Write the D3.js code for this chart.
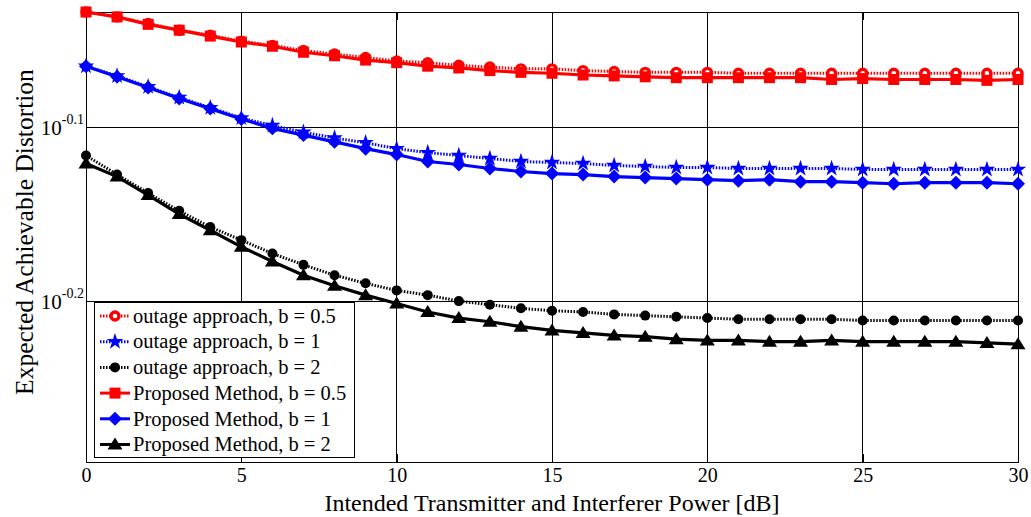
<!DOCTYPE html>
<html lang="en">
<head>
<meta charset="UTF-8">
<title>Expected Achievable Distortion</title>
<script src="https://d3js.org/d3.v7.min.js"></script>
<style>
  body { margin: 0; background: #fff; }
  svg text { font-family: "Liberation Serif", "Times New Roman", serif; fill: #000; }
  .grid line { stroke: #000; stroke-width: 1; shape-rendering: crispEdges; }
  .axis path, .axis line { stroke: #000; fill: none; shape-rendering: crispEdges; }
</style>
</head>
<body>
<svg width="1031" height="517"></svg>
<script>
// x values (dB)
const power = [0,1,2,3,4,5,6,7,8,9,10,11,12,13,14,15,16,17,18,19,20,21,22,23,24,25,26,27,28,29,30];

// outage approach
const outageB05 = [0.925,0.919,0.911,0.903,0.897,0.890,0.885,0.879,0.875,0.871,0.867,0.865,0.862,0.860,0.858,0.858,0.856,0.855,0.854,0.854,0.854,0.853,0.853,0.853,0.853,0.853,0.853,0.853,0.853,0.853,0.853];
const outageB1  = [0.861,0.850,0.838,0.826,0.815,0.804,0.796,0.789,0.783,0.778,0.772,0.768,0.765,0.762,0.759,0.758,0.757,0.755,0.754,0.753,0.753,0.752,0.752,0.752,0.752,0.751,0.751,0.751,0.751,0.751,0.751];
const outageB2  = [0.765,0.746,0.728,0.711,0.696,0.684,0.672,0.662,0.653,0.646,0.640,0.636,0.631,0.628,0.625,0.623,0.622,0.620,0.619,0.618,0.617,0.616,0.616,0.616,0.616,0.615,0.615,0.615,0.615,0.615,0.615];

// proposed method
const proposedB05 = [0.925,0.919,0.910,0.903,0.896,0.889,0.884,0.877,0.873,0.868,0.865,0.861,0.859,0.856,0.854,0.853,0.851,0.850,0.849,0.848,0.848,0.848,0.848,0.848,0.846,0.847,0.846,0.846,0.846,0.845,0.846];
const proposedB1  = [0.861,0.849,0.837,0.825,0.814,0.803,0.793,0.786,0.779,0.772,0.766,0.759,0.756,0.752,0.749,0.747,0.746,0.744,0.743,0.742,0.741,0.740,0.741,0.739,0.739,0.738,0.737,0.738,0.738,0.738,0.737];
const proposedB2  = [0.757,0.744,0.726,0.708,0.693,0.678,0.665,0.653,0.644,0.636,0.629,0.622,0.617,0.614,0.610,0.607,0.605,0.603,0.602,0.600,0.599,0.599,0.598,0.598,0.599,0.598,0.598,0.598,0.598,0.597,0.596];

const xTicks = [0,5,10,15,20,25,30];
const yTickExps = [-0.2, -0.1];
const yDomain = [0.51, 0.925];

const svg = d3.select("svg");
const margin = {top: 12, right: 13, bottom: 55, left: 86};
const width = +svg.attr("width") - margin.left - margin.right;
const height = +svg.attr("height") - margin.top - margin.bottom;
const g = svg.append("g").attr("transform", `translate(${margin.left},${margin.top})`);

const x = d3.scaleLinear().domain([0, 30]).range([0, width]);
const y = d3.scaleLog().domain(yDomain).range([height, 0]);
const yTicks = yTickExps.map(e => Math.pow(10, e));

// grid
const grid = g.append("g").attr("class", "grid");
grid.selectAll(".gx").data(xTicks.slice(1, -1)).enter().append("line")
  .attr("x1", d => x(d)).attr("x2", d => x(d)).attr("y1", 0).attr("y2", height);
grid.selectAll(".gy").data(yTicks).enter().append("line")
  .attr("x1", 0).attr("x2", width).attr("y1", d => y(d)).attr("y2", d => y(d));

// axes
const xAx = g.append("g").attr("class", "axis").attr("transform", `translate(0,${height})`)
  .call(d3.axisBottom(x).tickValues(xTicks).tickSizeInner(-8).tickSizeOuter(0).tickPadding(6));
xAx.selectAll(".tick text").style("font-size", "20px");
g.append("g").attr("class", "axis")
  .call(d3.axisTop(x).tickValues(xTicks).tickSizeInner(-8).tickSizeOuter(0).tickFormat(""));
const yAx = g.append("g").attr("class", "axis")
  .call(d3.axisLeft(y).tickValues(yTicks).tickSizeInner(-8).tickSizeOuter(0).tickPadding(2).tickFormat(""));
g.append("g").attr("class", "axis").attr("transform", `translate(${width},0)`)
  .call(d3.axisRight(y).tickValues(yTicks).tickSizeInner(-8).tickSizeOuter(0).tickFormat(""));

yAx.selectAll(".tick text").each(function(d, i) {
  const t = d3.select(this).attr("dy", "7");
  t.append("tspan").style("font-size", "21px").text("10");
  t.append("tspan").attr("dy", "-11").style("font-size", "14px").text(yTickExps[i].toString());
});

g.append("rect").attr("width", width).attr("height", height)
  .attr("fill", "none").attr("stroke", "#000").attr("stroke-width", 1)
  .attr("shape-rendering", "crispEdges");

// labels
svg.append("text").attr("x", margin.left + width / 2).attr("y", 511)
  .attr("text-anchor", "middle").style("font-size", "24px")
  .text("Intended Transmitter and Interferer Power [dB]");
svg.append("text").attr("transform", `translate(33,${margin.top + height / 2 - 5}) rotate(-90)`)
  .attr("text-anchor", "middle").style("font-size", "25.5px")
  .text("Expected Achievable Distortion");

// markers
const markers = {
  circleOpen: (sel, c) => sel.append("circle").attr("r", 4).attr("fill", "#fff").attr("stroke", c).attr("stroke-width", 3.4),
  star: (sel, c) => sel.append("path").attr("d", d3.symbol(d3.symbolStar, 30)()).attr("fill", c).attr("stroke", c).attr("stroke-width", 2.2),
  dot: (sel, c) => sel.append("circle").attr("r", 5).attr("fill", c),
  square: (sel, c) => sel.append("rect").attr("x", -5.5).attr("y", -5.5).attr("width", 11).attr("height", 11).attr("fill", c),
  diamond: (sel, c) => sel.append("path").attr("d", "M0,-7L7,0L0,7L-7,0Z").attr("fill", c),
  triangle: (sel, c) => sel.append("path").attr("d", "M0,-7L7.5,5L-7.5,5Z").attr("fill", c)
};

const series = [
  {name: "outage approach, b = 0.5", values: outageB05, color: "#ff0000", dotted: true, marker: "circleOpen"},
  {name: "outage approach, b = 1", values: outageB1, color: "#0000ff", dotted: true, marker: "star"},
  {name: "outage approach, b = 2", values: outageB2, color: "#000000", dotted: true, marker: "dot"},
  {name: "Proposed Method, b = 0.5", values: proposedB05, color: "#ff0000", dotted: false, marker: "square"},
  {name: "Proposed Method, b = 1", values: proposedB1, color: "#0000ff", dotted: false, marker: "diamond"},
  {name: "Proposed Method, b = 2", values: proposedB2, color: "#000000", dotted: false, marker: "triangle"}
];

const line = d3.line().x((d, i) => x(power[i])).y(d => y(d));

series.forEach(s => {
  g.append("path").datum(s.values)
    .attr("fill", "none").attr("stroke", s.color)
    .attr("stroke-width", s.dotted ? 3 : 3.2)
    .attr("stroke-dasharray", s.dotted ? "1.5,1.5" : null)
    .attr("d", line);
  g.selectAll(null).data(s.values).enter().append("g")
    .attr("transform", (d, i) => `translate(${x(power[i])},${y(d)})`)
    .each(function() { markers[s.marker](d3.select(this), s.color); });
});

// legend
const lg = svg.append("g").attr("transform", "translate(94,302)");
lg.append("rect").attr("width", 260).attr("height", 155)
  .attr("fill", "#fff").attr("stroke", "#000").attr("stroke-width", 1).attr("shape-rendering", "crispEdges");
series.forEach((s, i) => {
  const row = lg.append("g").attr("transform", `translate(0,${14 + i * 25.7})`);
  row.append("line").attr("x1", 6).attr("x2", 36).attr("y1", 0).attr("y2", 0)
    .attr("stroke", s.color).attr("stroke-width", 3)
    .attr("stroke-dasharray", s.dotted ? "1.5,1.5" : null);
  markers[s.marker](row.append("g").attr("transform", "translate(21,0)"), s.color);
  row.append("text").attr("x", 39).attr("y", 0).attr("dy", "0.33em")
    .style("font-size", "20.5px").text(s.name);
});
</script>
</body>
</html>
